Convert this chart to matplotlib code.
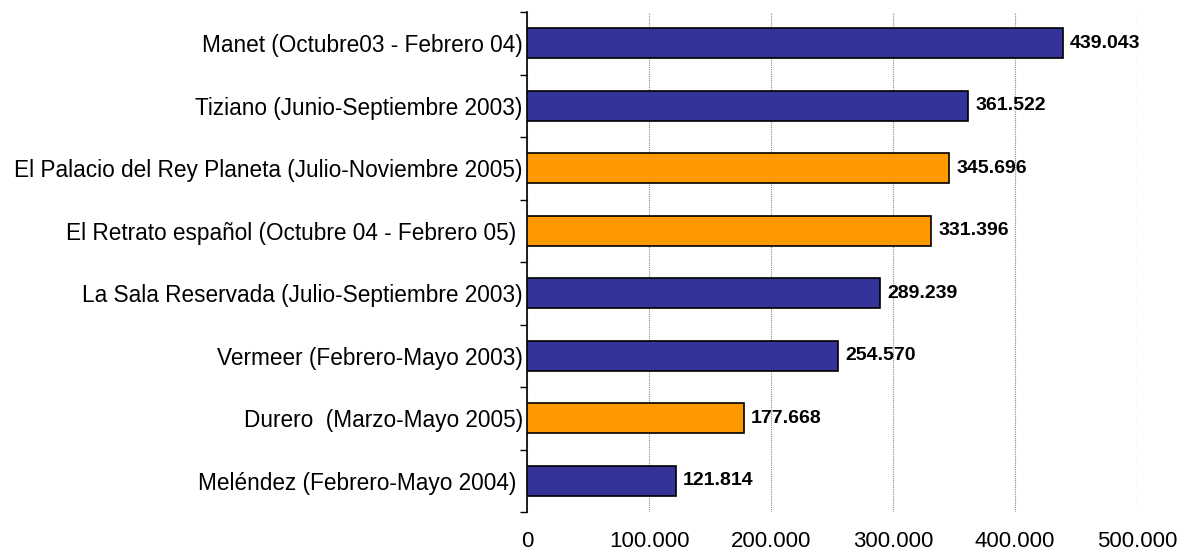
import numpy as np
import matplotlib.pyplot as plt
from matplotlib.ticker import FuncFormatter

plt.rcParams['font.family'] = ['Liberation Sans', 'DejaVu Sans']

exhibitions = [
    "Manet (Octubre03 - Febrero 04)",
    "Tiziano (Junio-Septiembre 2003)",
    "El Palacio del Rey Planeta (Julio-Noviembre 2005)",
    "El Retrato español (Octubre 04 - Febrero 05) ",
    "La Sala Reservada (Julio-Septiembre 2003)",
    "Vermeer (Febrero-Mayo 2003)",
    "Durero  (Marzo-Mayo 2005)",
    "Meléndez (Febrero-Mayo 2004) ",
]
visitors = [439043, 361522, 345696, 331396, 289239, 254570, 177668, 121814]
value_labels = ["439.043", "361.522", "345.696", "331.396",
                "289.239", "254.570", "177.668", "121.814"]
recent = [False, False, True, True, False, False, True, False]

blue = '#333399'
orange = '#FF9900'

fig = plt.figure(figsize=(11.91, 5.56), dpi=100)
ax = fig.add_axes([0.4425, 0.0791, 0.5122, 0.8993])

n = len(exhibitions)
ypos = np.arange(n)
colors = [orange if r else blue for r in recent]
ax.barh(ypos, visitors, height=0.48, color=colors, edgecolor='black',
        linewidth=1.2, zorder=3)

for y, v, lab in zip(ypos, visitors, value_labels):
    ax.text(v + 6000, y, lab, va='center', ha='left', fontsize=14,
            fontweight='bold', zorder=4)

ax.set_xlim(0, 500000)
ax.set_ylim(n - 0.5, -0.5)
ax.set_xticks(np.arange(0, 500001, 100000))
ax.xaxis.set_major_formatter(FuncFormatter(lambda x, p: f"{int(x):,}".replace(",", ".")))
ax.tick_params(axis='x', length=0, pad=14, labelsize=16)

ax.set_yticks(np.arange(-0.5, n, 1.0))
ax.set_yticklabels([])
ax.tick_params(axis='y', which='major', length=5, width=1, direction='out')
ax.set_yticks(ypos, minor=True)
ax.set_yticklabels(exhibitions, minor=True, fontsize=16.3)
ax.tick_params(axis='y', which='minor', length=0, pad=3)

ax.grid(axis='x', linestyle=(0, (1, 1)), color='#888888', linewidth=0.8, zorder=0)
for s in ['top', 'right', 'bottom']:
    ax.spines[s].set_visible(False)
ax.spines['left'].set_linewidth(1.2)

fig.savefig('out.png', dpi=100)
